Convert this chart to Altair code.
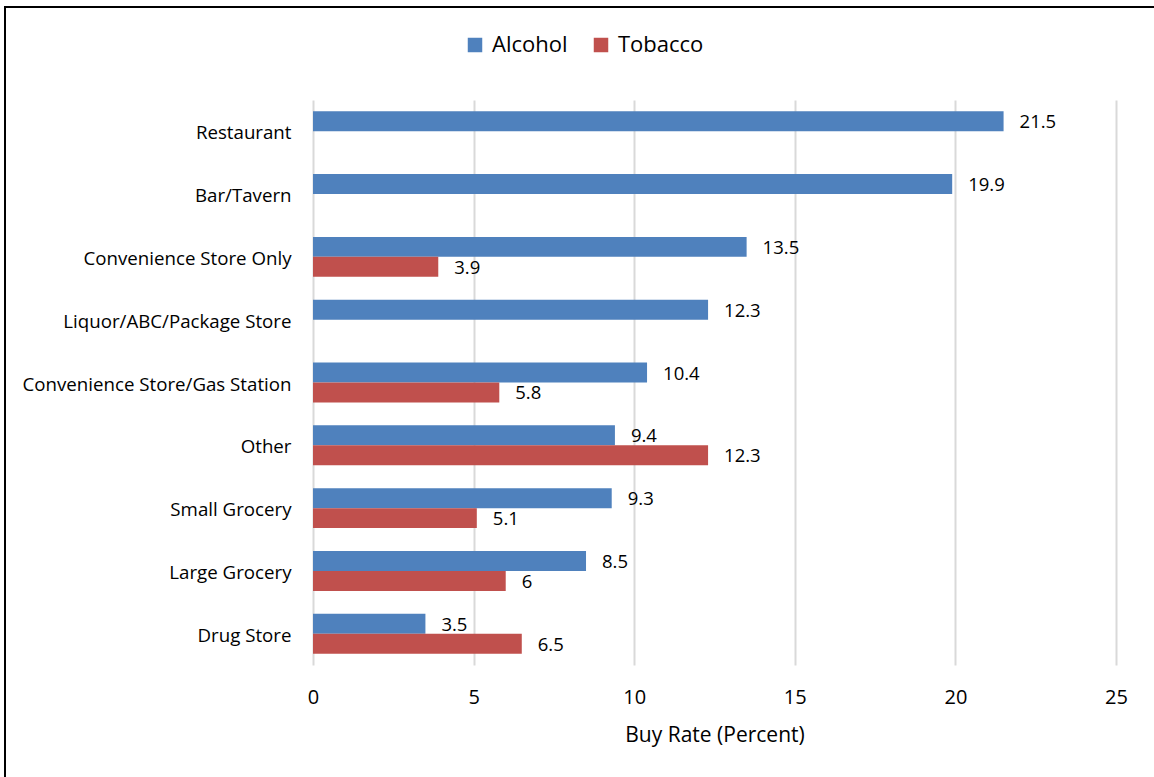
import altair as alt
import pandas as pd

categories = ["Restaurant", "Bar/Tavern", "Convenience Store Only", "Liquor/ABC/Package Store",
              "Convenience Store/Gas Station", "Other", "Small Grocery", "Large Grocery", "Drug Store"]
alcohol = [21.5, 19.9, 13.5, 12.3, 10.4, 9.4, 9.3, 8.5, 3.5]
tobacco = [None, None, 3.9, None, 5.8, 12.3, 5.1, 6.0, 6.5]
series = ["Alcohol", "Tobacco"]
colors = ["#4F81BD", "#C0504D"]

rows = []
for c, a, t in zip(categories, alcohol, tobacco):
    for s, v in (("Alcohol", a), ("Tobacco", t)):
        if v is not None:
            lab = f"{v:g}"
            rows.append({"cat": c, "series": s, "value": v, "label": lab})
df = pd.DataFrame(rows)

FONT = "Open Sans"

xscale = alt.Scale(domain=[0, 25], nice=False)

y = alt.Y("cat:N", sort=categories,
          scale=alt.Scale(paddingInner=0.365, paddingOuter=0.18),
          axis=alt.Axis(title=None, ticks=False, domain=False, labelFontSize=18.7,
                        labelPadding=22, labelColor="#000000", labelFont=FONT, grid=False,
                        labelLimit=0, labelOffset=2))
yoff = alt.YOffset("series:N", scale=alt.Scale(domain=series, paddingInner=0, paddingOuter=0))

bars = alt.Chart(df).mark_bar().encode(
    x=alt.X("value:Q", scale=xscale,
            axis=alt.Axis(values=[0, 5, 10, 15, 20, 25], title="Buy Rate (Percent)",
                          titleFontSize=21, titleFont=FONT, titleFontWeight="normal",
                          titleColor="#000000", titlePadding=17,
                          labelFontSize=20, labelFont=FONT, labelColor="#000000",
                          labelPadding=22, labelFlush=False, ticks=False, domain=False,
                          grid=True, gridColor="#d9d9d9", gridWidth=2)),
    y=y,
    yOffset=yoff,
    color=alt.Color("series:N", scale=alt.Scale(domain=series, range=colors),
                    legend=alt.Legend(title=None, orient="none", direction="horizontal",
                                      legendX=151, legendY=-66, symbolType="square",
                                      symbolSize=210, symbolStrokeWidth=0,
                                      labelFontSize=22, labelFont=FONT, labelColor="#000000",
                                      columnPadding=22, labelOffset=6)),
)

texts = alt.Chart(df).mark_text(align="left", baseline="middle", dx=16, dy=1, fontSize=18.5,
                                font=FONT, color="#000000").encode(
    x=alt.X("value:Q", scale=xscale), y=alt.Y("cat:N", sort=categories), yOffset=yoff,
    text="label:N")

border_top = alt.Chart(pd.DataFrame({"k": [0]})).mark_rule(color="#000000", strokeWidth=2).encode(
    x=alt.value(-308), x2=alt.value(845), y=alt.value(-93))
border_left = alt.Chart(pd.DataFrame({"k": [0]})).mark_rule(color="#000000", strokeWidth=2).encode(
    x=alt.value(-308), y=alt.value(-94), y2=alt.value(680))

chart = alt.layer(bars, texts, border_top, border_left).properties(
    width=803, height=565,
    autosize=alt.AutoSizeParams(type="none"),
    padding={"left": 313, "top": 100, "right": 38, "bottom": 112},
    background="white",
).configure_view(stroke=None)

chart.save("out.html", embed_options={"renderer": "svg", "actions": False})
